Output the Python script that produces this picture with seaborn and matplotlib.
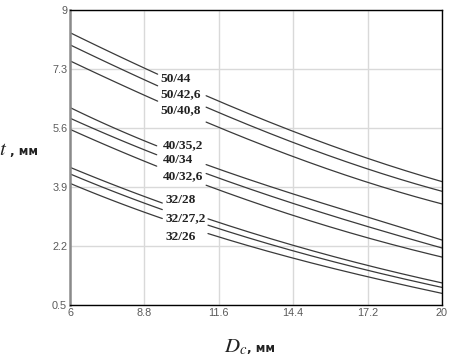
import numpy as np
import pandas as pd
import matplotlib
matplotlib.use("Agg")
import matplotlib.pyplot as plt
import seaborn as sns

# ---- data ----
x_points = [6.0, 8.8, 11.6, 14.4, 17.2, 20.0]
curve_names = ["50/44", "50/42,6", "50/40,8",
               "40/35,2", "40/34", "40/32,6",
               "32/28", "32/27,2", "32/26"]
t_50_44 = [8.34, 7.35, 6.35, 5.50, 4.74, 4.05]
t_50_426 = [7.99, 7.01, 6.03, 5.17, 4.44, 3.77]
t_50_408 = [7.53, 6.56, 5.60, 4.78, 4.04, 3.41]
t_40_352 = [6.19, 5.23, 4.42, 3.69, 3.04, 2.37]
t_40_34 = [5.88, 4.98, 4.15, 3.42, 2.77, 2.14]
t_40_326 = [5.56, 4.65, 3.81, 3.08, 2.44, 1.88]
t_32_28 = [4.47, 3.62, 2.88, 2.23, 1.63, 1.14]
t_32_272 = [4.28, 3.43, 2.70, 2.07, 1.49, 1.01]
t_32_26 = [4.01, 3.16, 2.47, 1.86, 1.30, 0.84]
curve_values = [t_50_44, t_50_426, t_50_408, t_40_352, t_40_34, t_40_326,
                t_32_28, t_32_272, t_32_26]
x_ticks = [6, 8.8, 11.6, 14.4, 17.2, 20]
y_ticks = [0.5, 2.2, 3.9, 5.6, 7.3, 9]

# label positions (data coords) and line gaps around labels
label_x = [9.39, 9.39, 9.39, 9.5, 9.5, 9.5, 9.58, 9.58, 9.6]
label_y = [7.01, 6.57, 6.10, 5.11, 4.68, 4.22, 3.53, 3.01, 2.47]
gap_lo = [9.31] * 3 + [9.27] * 3 + [9.48] * 3
gap_hi = [11.12] * 3 + [11.12] * 3 + [11.16] * 3

# ---- build dense line table for drawing ----
rows = []
xd = np.linspace(6, 20, 400)
for name, vals, lo, hi in zip(curve_names, curve_values, gap_lo, gap_hi):
    coef = np.polyfit(x_points, vals, 3)
    yd = np.polyval(coef, xd)
    for xv, yv in zip(xd, yd):
        if lo < xv < hi:
            continue
        seg = 0 if xv <= lo else 1
        rows.append({"x": xv, "t": yv, "curve": name, "seg": seg})
df = pd.DataFrame(rows)

sns.set_theme(style="white")
plt.rcParams["mathtext.fontset"] = "stix"

fig = plt.figure(figsize=(4.56, 3.6), dpi=100)
ax = fig.add_axes([70 / 456, 1 - 305 / 360, 372 / 456, 295 / 360])

sns.lineplot(data=df, x="x", y="t", hue="curve", units="seg", estimator=None,
             palette=["#3a3a3a"] * len(curve_names), legend=False,
             linewidth=0.9, ax=ax, sort=True)

ax.set_xlim(6, 20)
ax.set_ylim(0.5, 9)
ax.set_xticks(x_ticks)
ax.set_yticks(y_ticks)
ax.set_xticklabels([f"{v:g}" for v in x_ticks], fontfamily="Liberation Sans",
                   fontsize=7.8, color="#5a5a5a")
ax.set_yticklabels([f"{v:g}" for v in y_ticks], fontfamily="Liberation Sans",
                   fontsize=7.8, color="#5a5a5a")
ax.tick_params(axis="both", length=0, pad=2)
ax.grid(True, color="#d9d9d9", linewidth=1.0)
ax.set_axisbelow(True)
for side in ["top", "right", "bottom"]:
    ax.spines[side].set_color("black")
    ax.spines[side].set_linewidth(1.0)
ax.spines["left"].set_color("#8a8a8a")
ax.spines["left"].set_linewidth(1.8)
ax.set_xlabel("")
ax.set_ylabel("")

for name, lx, ly in zip(curve_names, label_x, label_y):
    ax.text(lx, ly, name, fontfamily="Liberation Serif", fontweight="bold",
            fontsize=9.6, color="#222222", ha="left", va="center")

# axis titles
fig.text(7 / 456, 1 - 149 / 360, r"$t$", fontsize=15, ha="right", va="center",
         color="#222222")
fig.text(10 / 456, 1 - 151 / 360, ", мм", fontfamily="DejaVu Sans",
         fontweight="bold", fontsize=8.5, ha="left", va="center", color="#222222")
fig.text(247 / 456, 1 - 347 / 360, r"$D_c$", fontsize=15, ha="right",
         va="center", color="#222222")
fig.text(247 / 456, 1 - 349 / 360, ", мм", fontfamily="DejaVu Sans",
         fontweight="bold", fontsize=8.5, ha="left", va="center", color="#222222")

fig.savefig("out.png", dpi=100)
